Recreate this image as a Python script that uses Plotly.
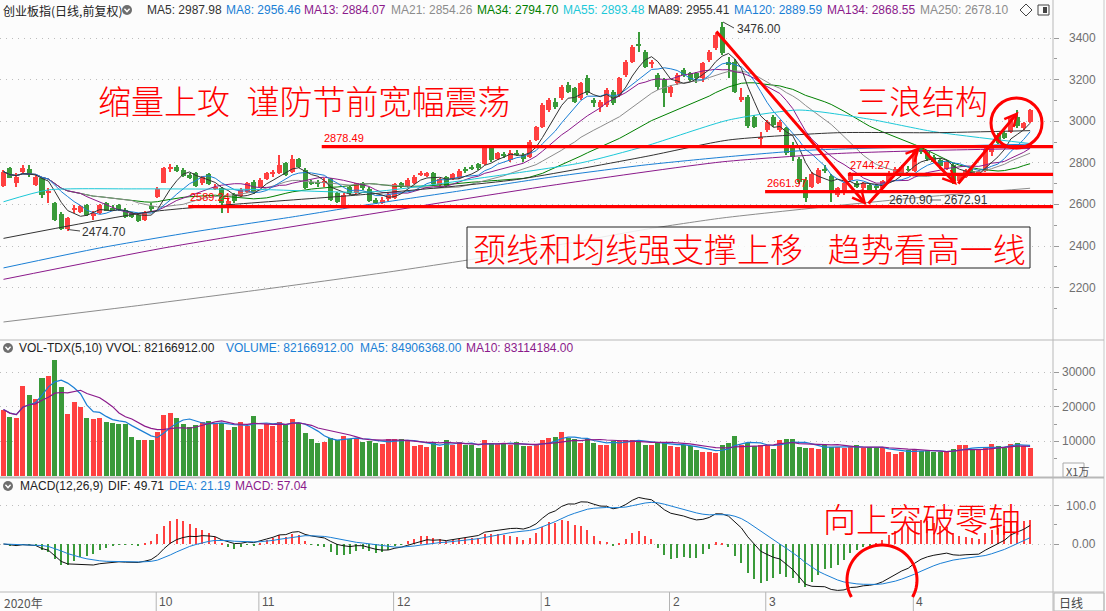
import numpy as np
import pandas as pd
import plotly.graph_objects as go

W, H = 1106, 611

# ---------------- data ----------------
opens = [2690,2774,2702,2758,2769,2694,2726,2654,2605,2554,2480,2574,2565,2597,2548,2561,2609,2585,2597,2573,
         2561,2549,2525,2594,2634,2705,2769,2782,2766,2742,2750,2702,2746,2673,2678,2597,2650,2641,2662,2710,
         2686,2721,2745,2750,2801,2758,2817,2766,2708,2708,2705,2721,2654,2597,2686,2654,2702,2675,2621,2609,
         2625,2629,2702,2686,2702,2743,2739,2750,2694,2730,2721,2726,2769,2782,2795,2795,2870,2817,2841,2814,
         2849,2838,2830,2910,2974,3054,3094,3110,3174,3158,3110,3206,3102,3070,3078,3142,3126,3222,3287,3370,
         3335,3276,3223,3198,3134,3182,3246,3230,3230,3206,3295,3351,3455,3287,3287,3102,3115,3022,2915,2958,
         3022,2958,2966,2880,2820,2718,2686,2702,2769,2737,2646,2654,2718,2702,2678,2694,2690,2680,2715,2740,
         2750,2770,2760,2870,2850,2830,2815,2770,2790,2712,2730,2760,2745,2760,2850,2935,2942,2950,3022,2966,2998]
highs = [2766,2782,2750,2790,2790,2742,2734,2678,2613,2565,2541,2597,2597,2602,2570,2602,2613,2597,2602,2581,
         2565,2557,2569,2605,2686,2782,2795,2790,2774,2750,2758,2737,2753,2698,2686,2629,2657,2678,2710,2718,
         2726,2758,2766,2838,2806,2838,2822,2774,2718,2718,2726,2726,2662,2654,2689,2705,2710,2685,2630,2635,
         2655,2705,2710,2726,2742,2762,2758,2758,2729,2737,2753,2770,2782,2790,2800,2878,2885,2854,2854,2862,
         2862,2846,2910,2979,3086,3110,3110,3174,3190,3166,3190,3222,3110,3102,3158,3150,3214,3295,3367,3431,
         3345,3295,3230,3206,3174,3230,3255,3238,3238,3287,3343,3423,3476,3311,3300,3158,3126,3030,2950,3006,
         3030,3006,2974,2900,2830,2730,2758,2776,2790,2746,2686,2710,2758,2714,2710,2702,2698,2720,2760,2780,
         2790,2785,2860,2885,2860,2840,2825,2815,2800,2745,2770,2770,2765,2880,2900,2945,2955,3027,3054,2995,3060]
lows = [2686,2726,2686,2750,2734,2689,2630,2605,2522,2477,2474.70,2561,2561,2545,2525,2554,2567,2570,2570,2533,
        2533,2517,2522,2570,2630,2702,2758,2758,2734,2721,2686,2694,2694,2670,2561,2557,2609,2637,2657,2650,
        2682,2718,2734,2747,2737,2753,2774,2673,2694,2686,2686,2618,2609,2589,2646,2650,2670,2612,2600,2600,
        2618,2625,2678,2680,2698,2738,2734,2694,2690,2682,2718,2721,2750,2766,2766,2790,2806,2812,2825,2806,
        2835,2806,2825,2905,2966,3046,3060,3102,3134,3086,3102,3126,3070,3046,3070,3078,3118,3214,3280,3335,
        3255,3255,3150,3070,3118,3174,3214,3190,3186,3190,3287,3345,3320,3207,3134,3094,2966,2966,2886,2950,
        2974,2950,2838,2810,2700,2613,2678,2698,2750,2614,2638,2646,2710,2678,2670,2662,2670.90,2672.91,2710,2735,
        2745,2760,2755,2845,2810,2800,2770,2765,2700,2705,2725,2735,2735,2755,2835,2890,2915,2945,2970,2960,2990]
closes = [2758,2729,2730,2774,2742,2734,2646,2666,2525,2480,2537,2581,2593,2549,2557,2597,2570,2578,2573,2538,
          2541,2522,2565,2578,2673,2774,2782,2763,2737,2726,2689,2730,2698,2686,2605,2618,2618,2670,2705,2654,
          2718,2750,2755,2790,2742,2817,2779,2678,2702,2702,2714,2622,2613,2646,2654,2702,2678,2618,2609,2621,
          2646,2698,2686,2718,2734,2750,2750,2698,2721,2690,2746,2762,2762,2774,2774,2870,2814,2846,2835,2846,
          2841,2817,2902,2971,3078,3102,3067,3166,3142,3094,3182,3134,3086,3094,3150,3086,3206,3287,3359,3362,
          3263,3282,3166,3134,3166,3222,3222,3198,3206,3279,3335,3415,3330,3271,3142,3115,2977,2974,2923,2998,
          2982,2998,2846,2830,2706,2630,2746,2766,2762,2657,2678,2702,2750,2686,2702,2670,2678,2712,2752,2772,
          2782,2766,2853,2850,2820,2805,2785,2806,2712,2738,2762,2745,2758,2868,2880,2895,2920,3014,2975,2990,3054]
volumes = [19172,17146,16856,26120,23515,22164,28146,28726,33358,25831,18014,21488,20040,16856,16566,16856,15698,15408,15119,15119,
           11356,10487,10487,10487,12803,17725,18304,16856,15119,14250,14829,15505,15987,15022,15312,13382,14250,15698,14540,17435,
           13671,15119,14540,15698,14733,16566,15312,12514,10777,9619,9908,11066,10294,11645,10680,11066,9908,10101,9619,9136,
           10584,10777,10777,10101,8750,9040,8268,9908,8461,10487,9040,9908,8847,9040,8172,10487,9500,9100,9300,9000,
           9800,8557,8557,8943,10487,10873,11162,12610,10873,10680,9426,10777,9426,9040,9040,10197,10005,10487,10487,10197,
           9040,9040,9522,9522,8750,8461,9040,8557,7592,6820,7013,6723,9040,9426,11645,8943,9522,8750,8943,8943,
           7882,10487,10777,10777,8461,8172,8172,7882,8943,8461,8461,7978,8461,8943,7978,8461,7978,7978,6820,6434,
           6820,7496,7882,7109,7496,6820,6820,6820,7882,9040,9040,7496,7496,7978,9329,8750,8172,9329,9600,8750,8217]

# long moving averages (history before the window) read at sample bars
ma55_x = [0, 7, 20, 40, 57, 75, 90, 100, 113, 124, 135, 145, 160]
ma55_y = [2613, 2670, 2675, 2672, 2660, 2730, 2800, 2880, 3006, 3054, 3010, 2950, 2893]
ma89_x = [0, 23, 57, 80, 100, 113, 130, 145, 160]
ma89_y = [2437, 2565, 2650, 2720, 2830, 2910, 2945, 2945, 2955]
ma120_x = [0, 15, 30, 45, 57, 70, 85, 100, 113, 125, 140, 160]
ma120_y = [2295, 2391, 2470, 2540, 2600, 2660, 2730, 2790, 2830, 2860, 2875, 2890]
ma134_x = [0, 25, 57, 85, 112, 130, 145, 160]
ma134_y = [2240, 2391, 2553, 2690, 2805, 2845, 2860, 2869]
ma250_x = [0, 20, 40, 60, 80, 100, 112, 131, 145, 160]
ma250_y = [2035, 2110, 2190, 2275, 2370, 2480, 2535, 2598, 2640, 2678]

month_idx = [24, 40, 61, 84, 104, 119, 142]
month_txt = ["10", "11", "12", "1", "2", "3", "4"]
price_ticks = [2200, 2400, 2600, 2800, 3000, 3200, 3400]
vol_ticks = [10000, 20000, 30000]
macd_ticks = [0, 100]
levels = [2878.49, 2589.24, 2744.27, 2661.97]
level_start = [49.6, 28.8, 131.6, 118.7]

# ---------------- derived ----------------
n = len(closes)
idx = np.arange(n)
o = np.array(opens, float); c = np.array(closes, float)
hi = np.array(highs, float); lo = np.array(lows, float)
up = c >= o
RED, GREEN = "#ff4040", "#3a9a3a"
cols = [RED if u else GREEN for u in up]
cs = pd.Series(c)
ma = {k: cs.rolling(k, min_periods=1).mean() for k in (5, 8, 13, 21, 34)}
vs = pd.Series(volumes, dtype=float)
vma5 = vs.rolling(5, min_periods=1).mean()
vma10 = vs.rolling(10, min_periods=1).mean()
ema12 = cs.ewm(span=12, adjust=False).mean()
ema26 = cs.ewm(span=26, adjust=False).mean()
dif = ema12 - ema26
dea = dif.ewm(span=9, adjust=False).mean()
hist = 2 * (dif - dea)

XR = [-0.5455, 163.57]
XD = [0, 1053 / W]

def py(y):
    return 1 - y / H

def pxx(x):
    return x / W

fig = go.Figure()

# candles: wicks + bodies
fig.add_trace(go.Bar(x=idx, y=hi - lo, base=lo, width=0.16, marker=dict(color=cols, line=dict(width=0)),
                     xaxis="x", yaxis="y", hoverinfo="skip"))
body = np.maximum(np.abs(c - o), 2.5)
fig.add_trace(go.Bar(x=idx, y=body, base=np.minimum(o, c), width=0.78, marker=dict(color=cols, line=dict(width=0)),
                     xaxis="x", yaxis="y", hoverinfo="skip"))

MACOL = {"k": "#333333", "b": "#1a7fd5", "p": "#8b1a8b", "g": "#8c8c8c", "gr": "#008000", "c": "#1cc8d8"}
for k, col in ((34, MACOL["gr"]), (21, MACOL["g"]), (13, MACOL["p"]), (8, MACOL["b"]), (5, MACOL["k"])):
    fig.add_trace(go.Scatter(x=idx, y=ma[k], mode="lines", line=dict(color=col, width=1), xaxis="x", yaxis="y",
                             hoverinfo="skip"))
for xs, ys, col in ((ma55_x, ma55_y, MACOL["c"]), (ma89_x, ma89_y, MACOL["k"]), (ma120_x, ma120_y, MACOL["b"]),
                    (ma134_x, ma134_y, MACOL["p"]), (ma250_x, ma250_y, MACOL["g"])):
    fig.add_trace(go.Scatter(x=xs, y=ys, mode="lines", line=dict(color=col, width=1, shape="spline", smoothing=0.6),
                             xaxis="x", yaxis="y", hoverinfo="skip"))

# volume
fig.add_trace(go.Bar(x=idx, y=volumes, width=0.78, marker=dict(color=cols, line=dict(width=0)),
                     xaxis="x2", yaxis="y2", hoverinfo="skip"))
fig.add_trace(go.Scatter(x=idx, y=vma5, mode="lines", line=dict(color=MACOL["b"], width=1.2), xaxis="x2", yaxis="y2"))
fig.add_trace(go.Scatter(x=idx, y=vma10, mode="lines", line=dict(color=MACOL["p"], width=1.2), xaxis="x2", yaxis="y2"))

# MACD
hcols = [RED if v >= 0 else GREEN for v in hist]
fig.add_trace(go.Bar(x=idx, y=hist, width=0.17, marker=dict(color=hcols, line=dict(width=0)),
                     xaxis="x3", yaxis="y3", hoverinfo="skip"))
fig.add_trace(go.Scatter(x=idx, y=dif, mode="lines", line=dict(color="#111111", width=1), xaxis="x3", yaxis="y3"))
fig.add_trace(go.Scatter(x=idx, y=dea, mode="lines", line=dict(color=MACOL["b"], width=1), xaxis="x3", yaxis="y3"))

GRID = dict(showgrid=True, gridcolor="#bdbdbd", griddash="1px,5px", gridwidth=1, zeroline=False,
            ticks="outside", ticklen=5, tickcolor="#9a9a9a", showticklabels=False, side="right", showline=False)
xcommon = dict(range=XR, domain=XD, showgrid=False, zeroline=False, showticklabels=False, ticks="", showline=False)

fig.update_layout(
    width=W, height=H, margin=dict(l=0, r=0, t=0, b=0),
    paper_bgcolor="#fcfcfc", plot_bgcolor="#fcfcfc",
    showlegend=False, barmode="overlay", bargap=0,
    xaxis=dict(**xcommon, anchor="y"),
    xaxis2=dict(**xcommon, anchor="y2", matches="x"),
    xaxis3=dict(**xcommon, anchor="y3", matches="x"),
    yaxis=dict(**GRID, domain=[py(338), py(20)], range=[1958, 3487], anchor="x", tickvals=price_ticks,
               minor=dict(tickvals=[2100, 2300, 2500, 2700, 2900, 3100, 3300], ticklen=3, ticks="outside",
                          tickcolor="#9a9a9a", showgrid=False)),
    yaxis2=dict(**GRID, domain=[py(476), py(355)], range=[0, 34921], anchor="x2", tickvals=vol_ticks,
                minor=dict(tickvals=[5000, 15000, 25000], ticklen=3, ticks="outside", tickcolor="#9a9a9a",
                           showgrid=False)),
    yaxis3=dict(**GRID, domain=[py(592), py(492)], range=[-125.3, 135.8], anchor="x3", tickvals=macd_ticks,
                minor=dict(tickvals=[50], ticklen=3, ticks="outside", tickcolor="#9a9a9a", showgrid=False)),
)

shapes = []
anns = []

def pline(x0, y0, x1, y1, color="#b4b4b4", width=1):
    shapes.append(dict(type="line", xref="paper", yref="paper", x0=pxx(x0), y0=py(y0), x1=pxx(x1), y1=py(y1),
                       line=dict(color=color, width=width), layer="above"))

def ptext(t, x, y, size=12, color="#333", xanchor="left", family="Liberation Sans, Arial, sans-serif",
          weight=None, **kw):
    f = dict(size=size, color=color, family=family)
    if weight:
        f["weight"] = weight
    anns.append(dict(text=t, x=pxx(x), y=py(y), xref="paper", yref="paper", showarrow=False, xanchor=xanchor,
                     yanchor="middle", font=f, **kw))

# frame lines
pline(1053, 0, 1053, 611, "#b8b8b8")
pline(1104, 0, 1104, 611, "#c8c8c8")
pline(0, 340, 1104, 340, "#b8b8b8")
pline(0, 477.5, 1104, 477.5, "#b8b8b8", 2)
pline(0, 592, 1104, 592, "#b8b8b8")

# right axis labels
for v in price_ticks:
    anns.append(dict(text=str(v), x=pxx(1098), y=v, xref="paper", yref="y", showarrow=False, xanchor="right",
                     yanchor="middle", font=dict(size=12, color="#707070", family="Liberation Sans, Arial")))
for v in vol_ticks:
    anns.append(dict(text=str(v), x=pxx(1098), y=v, xref="paper", yref="y2", showarrow=False, xanchor="right",
                     yanchor="middle", font=dict(size=12, color="#707070", family="Liberation Sans, Arial")))
for v, t in zip(macd_ticks, ["0.00", "100.0"]):
    anns.append(dict(text=t, x=pxx(1098), y=v, xref="paper", yref="y3", showarrow=False, xanchor="right",
                     yanchor="middle", font=dict(size=12, color="#707070", family="Liberation Sans, Arial")))
shapes.append(dict(type="rect", xref="paper", yref="paper", x0=pxx(1063), x1=pxx(1084), y0=py(477), y1=py(463),
                   line=dict(color="#aaaaaa", width=1), fillcolor="#fcfcfc"))
ptext("X1万", 1064, 470.5, size=11, color="#555", family="Noto Sans CJK SC, sans-serif")

# headers
def icon(x, y):
    shapes.append(dict(type="circle", xref="paper", yref="paper", x0=pxx(x - 5), x1=pxx(x + 5), y0=py(y + 5),
                       y1=py(y - 5), fillcolor="#6e6e6e", line=dict(width=0)))
    shapes.append(dict(type="path", xref="paper", yref="paper",
                       path=f"M {pxx(x-2.6)} {py(y-1.2)} L {pxx(x)} {py(y+1.6)} L {pxx(x+2.6)} {py(y-1.2)}",
                       line=dict(color="white", width=1.4)))

ptext("创业板指(日线,前复权)", 1, 10, size=12, color="#222", family="Noto Sans CJK SC, sans-serif")
icon(127, 10)
hdr = [("MA5: 2987.98", 145, MACOL["k"]), ("MA8: 2956.46", 224, MACOL["b"]), ("MA13: 2884.07", 302, MACOL["p"]),
       ("MA21: 2854.26", 389, MACOL["g"]), ("MA34: 2794.70", 475, MACOL["gr"]), ("MA55: 2893.48", 561, MACOL["c"]),
       ("MA89: 2955.41", 646, MACOL["k"]), ("MA120: 2889.59", 732, MACOL["b"]), ("MA134: 2868.55", 825, MACOL["p"]),
       ("MA250: 2678.10", 918, MACOL["g"])]
for t, x, col in hdr:
    ptext(t, x, 10, size=12, color=col)
# top-right icons
shapes.append(dict(type="path", xref="paper", yref="paper",
                   path=f"M {pxx(1026)} {py(4)} L {pxx(1032)} {py(10)} L {pxx(1026)} {py(16)} L {pxx(1020)} {py(10)} Z",
                   line=dict(color="#444", width=1)))
shapes.append(dict(type="rect", xref="paper", yref="paper", x0=pxx(1038), x1=pxx(1049), y0=py(15), y1=py(5),
                   line=dict(color="#444", width=1)))
shapes.append(dict(type="rect", xref="paper", yref="paper", x0=pxx(1043), x1=pxx(1047), y0=py(13), y1=py(7),
                   fillcolor="#444", line=dict(width=0)))

icon(8, 348)
ptext("VOL-TDX(5,10) VVOL: 82166912.00", 17, 348, color="#222")
ptext("VOLUME: 82166912.00", 224, 348, color=MACOL["b"])
ptext("MA5: 84906368.00", 358, 348, color=MACOL["b"])
ptext("MA10: 83114184.00", 464, 348, color=MACOL["p"])

icon(8, 486)
ptext("MACD(12,26,9)", 18, 486, color="#222")
ptext("DIF: 49.71", 106, 486, color="#222")
ptext("DEA: 21.19", 167, 486, color=MACOL["b"])
ptext("MACD: 57.04", 233, 486, color=MACOL["p"])

# bottom date strip
ptext("2020年", 2, 602, color="#555", family="Noto Sans CJK SC, sans-serif")
for i, t in zip(month_idx, month_txt):
    shapes.append(dict(type="line", xref="x", yref="paper", x0=i - 0.2, x1=i - 0.2, y0=0, y1=py(592),
                       line=dict(color="#b4b4b4", width=1)))
    anns.append(dict(text=t, x=i - 0.2, y=py(602), xref="x", yref="paper", showarrow=False, xanchor="left",
                     yanchor="middle", xshift=1, font=dict(size=12, color="#555", family="Liberation Sans, Arial")))
shapes.append(dict(type="rect", xref="paper", yref="paper", x0=pxx(1054), x1=pxx(1104), y0=py(611), y1=py(593),
                   line=dict(color="#b4b4b4", width=1)))
ptext("日线", 1057, 602, color="#444", family="Noto Sans CJK SC, sans-serif")

# support / neckline levels
for lv, x0 in zip(levels, level_start):
    shapes.append(dict(type="line", xref="x", yref="y", x0=x0, x1=XR[1], y0=lv, y1=lv,
                       line=dict(color="#ff0000", width=3.2), layer="above"))
RT = "#ff0000"
ptext("2878.49", 322, 138, size=11, color=RT)
ptext("2589.24", 188, 197, size=11, color=RT)
ptext("2744.27", 848, 165, size=11, color=RT)
ptext("2661.97", 765, 183, size=11, color=RT)
ptext("2670.90", 887, 200, size=12, color="#333")
ptext("2672.91", 942, 200, size=12, color="#333")
pline(930, 200, 941, 200, "#666")
ptext("3476.00", 735, 29, size=12, color="#333")
pline(723, 22, 734, 28, "#444")
ptext("2474.70", 80, 232, size=12, color="#333")
pline(68, 229.5, 80, 231, "#444")

# arrows (index, price)
arrows = [((110.9, 3439), (134.5, 2598)), ((134.6, 2598), (142.85, 2877)),
          ((143.1, 2870), (148.6, 2694)), ((148.6, 2694), (158.2, 3046))]
for (tx, ty), (hx, hy) in arrows:
    anns.append(dict(text="", x=hx, y=hy, ax=tx, ay=ty, xref="x", yref="y", axref="x", ayref="y",
                     showarrow=True, arrowhead=5, arrowsize=0.8, arrowwidth=3, arrowcolor="#ff0000", standoff=0))
shapes.append(dict(type="circle", xref="paper", yref="paper", x0=pxx(991), x1=pxx(1042), y0=py(148), y1=py(98),
                   line=dict(color="#ff0000", width=3)))
# MACD circle arc (clipped at the date strip)
cx, cy, r = 882, 580, 35
a0 = np.arcsin((597 - cy) / r)
angs = np.linspace(np.pi - a0, 2 * np.pi + a0, 60)
pts = [(cx + r * np.cos(a), cy + r * np.sin(a)) for a in angs]
path = "M " + " L ".join(f"{pxx(x):.5f} {py(y):.5f}" for x, y in pts)
shapes.append(dict(type="path", xref="paper", yref="paper", path=path, line=dict(color="#ff0000", width=3)))

# big commentary text
CJK = "Noto Sans CJK SC, sans-serif"
ptext("缩量上攻\u2002谨防节前宽幅震荡", 96, 100, size=33, color=RT, family=CJK, weight=300)
ptext("三浪结构", 854, 100, size=33, color=RT, family=CJK, weight=300)
shapes.append(dict(type="rect", xref="paper", yref="paper", x0=pxx(467), x1=pxx(1030), y0=py(268), y1=py(227),
                   line=dict(color="#222", width=1), fillcolor="rgba(252,252,252,0.85)"))
ptext("颈线和均线强支撑上移\u2002\u2005趋势看高一线", 471, 248, size=33, color=RT, family=CJK, weight=300)
ptext("向上突破零轴", 821, 518, size=33, color=RT, family=CJK, weight=300)

fig.update_layout(shapes=shapes, annotations=anns)
fig.write_html("out.html")
